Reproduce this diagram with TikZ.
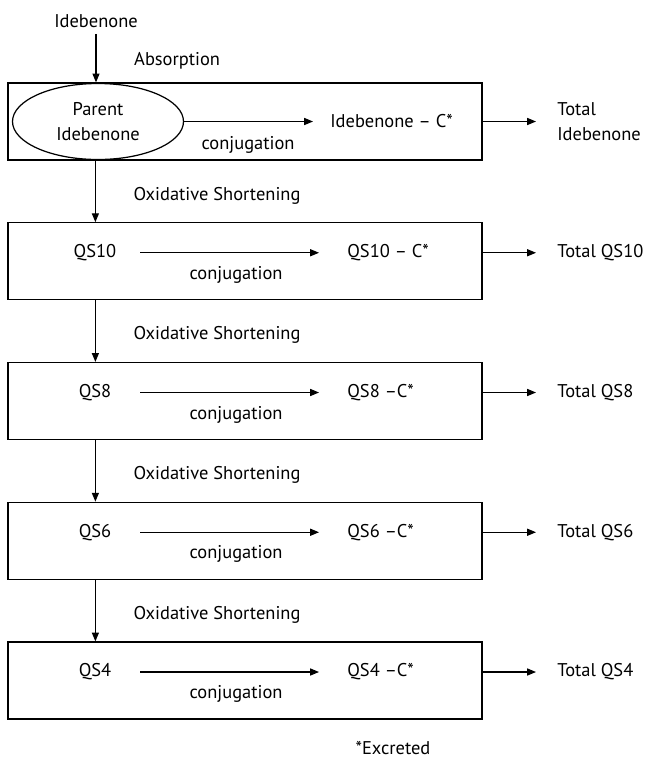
\documentclass[tikz,border=0pt]{standalone}
\usepackage{fontspec}
\setmainfont{PT Sans}
\usetikzlibrary{shapes.geometric,positioning,calc,arrows.meta}

\begin{document}
\begin{tikzpicture}[font=\fontsize{10.5}{14.2}\selectfont]
 \useasboundingbox (0,0) rectangle (12.92,-15.2);

\tikzstyle{stage}=[draw,line width=0.7pt,minimum width=9.48cm,minimum height=1.54cm,inner sep=0pt]
\tikzstyle{flow}=[line width=0.6pt,-{Triangle[length=5pt,width=4pt]}]
\tikzstyle{src}=[minimum width=1.8cm,inner sep=0pt]
\tikzstyle{product}=[inner xsep=0.56cm,inner ysep=0pt,anchor=west]
\tikzstyle{total}=[inner xsep=0.42cm,inner ysep=0pt,anchor=west,align=left]

   % intake
   \node (drug) at (1.92,-0.42) {Idebenone};
   \node (absorb) [anchor=west] at (2.56,-1.22) {Absorption};

   % first stage: parent compound
   \node (b1) [stage] at (4.9,-2.43) {};
   \node (parent) [draw,ellipse,line width=0.7pt,minimum width=3.42cm,minimum height=1.52cm,inner sep=0pt,align=center] at ([xshift=-2.94cm]b1.center) {Parent\\Idebenone};
   \node (p1) [product,inner xsep=0.34cm] at ([xshift=1.36cm]b1.center) {Idebenone -- C*};
   \node (c1) at ([xshift=0.06cm,yshift=-0.47cm]b1.center) {conjugation};
   \node (t1) [total] at ([xshift=5.82cm]b1.center) {Total\\Idebenone};

   \draw[flow] (drug.south) -- (drug.south |- b1.north);
   \draw[flow] (parent.east) -- (p1.west);
   \draw[flow] (t1.west -| b1.east) -- (t1.west);

   % shortened quinones
   \foreach \lab/\prod [count=\i from 2] in {QS10/{QS10 -- C*},QS8/{QS8 --C*},QS6/{QS6 --C*},QS4/{QS4 --C*}}
   {
     \pgfmathtruncatemacro{\j}{\i-1}
     \node (b\i) [stage] at (4.9,{-2.43-2.795*(\i-1)}) {};
     \node (s\i) [src] at ([xshift=-3.0cm,yshift=0.17cm]b\i.center) {\lab};
     \node (p\i) [product] at ([xshift=1.48cm,yshift=0.17cm]b\i.center) {\prod};
     \node (c\i) at ([xshift=-0.18cm,yshift=-0.27cm]b\i.center) {conjugation};
     \node (t\i) [total] at ([xshift=5.82cm,yshift=0.17cm]b\i.center) {Total \lab};
     \node (ox\i) [anchor=west] at ([xshift=2.4cm,yshift=-0.7cm]b\j.south west) {Oxidative Shortening};

     \draw[flow] (s\i.east) -- (p\i.west);
     \draw[flow] (t\i.west -| b\i.east) -- (t\i.west);
     \draw[flow] ([xshift=1.76cm]b\j.south west) -- ([xshift=1.76cm]b\i.north west);
   }

   \node (excr) at (7.86,-14.96) {*Excreted};

\end{tikzpicture}
\end{document}
